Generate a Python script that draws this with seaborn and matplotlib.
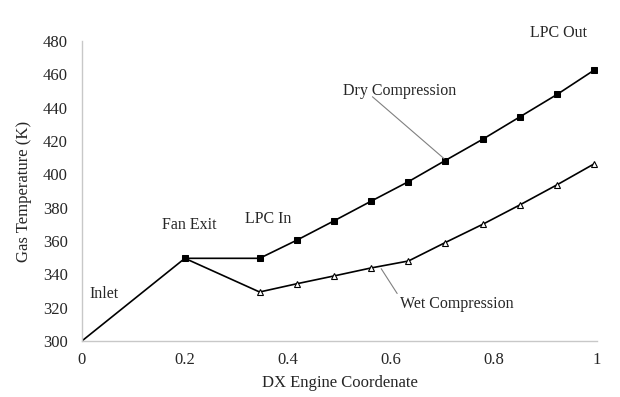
import numpy as np
import pandas as pd
import matplotlib
matplotlib.use("Agg")
import matplotlib.pyplot as plt
import seaborn as sns

# data
inlet_x = [0.0, 0.2]
inlet_temp = [300.0, 349.6]

dry_x = [0.2, 0.345, 0.418, 0.489, 0.561, 0.634, 0.705, 0.778, 0.850, 0.923, 0.994]
dry_temp = [349.6, 349.6, 360.6, 372.0, 383.8, 395.6, 408.2, 421.0, 434.4, 448.0, 462.4]

wet_x = [0.345, 0.418, 0.489, 0.561, 0.634, 0.705, 0.778, 0.850, 0.923, 0.994]
wet_temp = [329.4, 334.4, 339.0, 343.8, 348.0, 359.0, 370.0, 381.6, 393.8, 406.2]

x_ticks = [0, 0.2, 0.4, 0.6, 0.8, 1]
x_tick_labels = ["0", "0.2", "0.4", "0.6", "0.8", "1"]
y_ticks = [300, 320, 340, 360, 380, 400, 420, 440, 460, 480]

sns.set_style("white")
plt.rcParams["font.family"] = ["Liberation Serif", "DejaVu Serif"]

fig = plt.figure(figsize=(6.2, 3.97), dpi=100)
ax = fig.add_axes([0.132, 0.141, 0.831, 0.756])

inlet_df = pd.DataFrame({"x": inlet_x, "T": inlet_temp})
dry_df = pd.DataFrame({"x": dry_x, "T": dry_temp})
wet_df = pd.DataFrame({"x": [inlet_x[-1]] + wet_x, "T": [inlet_temp[-1]] + wet_temp})

sns.lineplot(data=inlet_df, x="x", y="T", color="black", lw=1.2, ax=ax)
sns.lineplot(data=dry_df, x="x", y="T", color="black", lw=1.2, marker="s",
             markersize=4.5, markerfacecolor="black", markeredgecolor="black", ax=ax)
sns.lineplot(data=wet_df, x="x", y="T", color="black", lw=1.2, ax=ax)
sns.lineplot(data=pd.DataFrame({"x": wet_x, "T": wet_temp}), x="x", y="T",
             color="black", lw=0, marker="^", markersize=4.8,
             markerfacecolor="white", markeredgecolor="black", markeredgewidth=0.8, ax=ax)

ax.set_xlim(0, 1)
ax.set_ylim(300, 480)
ax.set_xticks(x_ticks)
ax.set_xticklabels(x_tick_labels)
ax.set_yticks(y_ticks)
ax.tick_params(labelsize=12, length=0)
ax.tick_params(axis="y", pad=10)
ax.tick_params(axis="x", pad=8)
ax.set_xlabel("DX Engine Coordenate", fontsize=12, labelpad=5)
ax.set_ylabel("Gas Temperature (K)", fontsize=12, labelpad=8)

for side in ["top", "right"]:
    ax.spines[side].set_visible(False)
for side in ["left", "bottom"]:
    ax.spines[side].set_color("#c8c8c8")
    ax.spines[side].set_linewidth(1)

# stage labels
fs = 11.5
ax.text(0.044, 328, "Inlet", fontsize=fs, ha="center", va="center")
ax.text(0.208, 369.6, "Fan Exit", fontsize=fs, ha="center", va="center")
ax.text(0.362, 373, "LPC In", fontsize=fs, ha="center", va="center")
ax.text(0.925, 485, "LPC Out", fontsize=fs, ha="center", va="center", clip_on=False)

ax.plot([0.564, 0.703], [446.5, 409.4], color="gray", lw=0.8)
ax.text(0.617, 450, "Dry Compression", fontsize=fs, ha="center", va="center")
ax.plot([0.612, 0.581], [328.5, 343.4], color="gray", lw=0.8)
ax.text(0.728, 322.4, "Wet Compression", fontsize=fs, ha="center", va="center")

fig.savefig("out.png", dpi=100)
